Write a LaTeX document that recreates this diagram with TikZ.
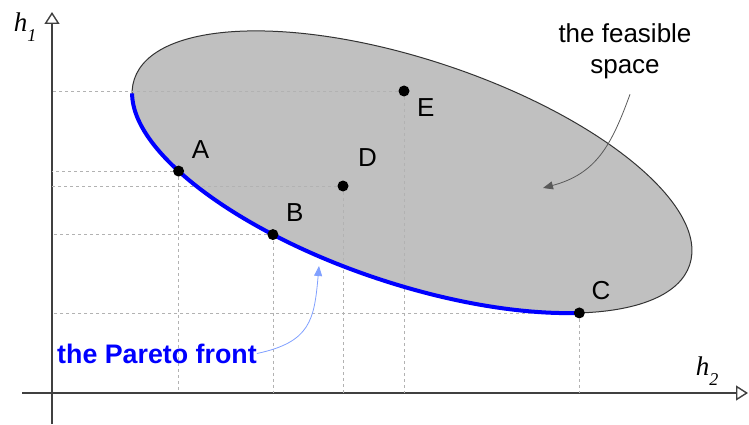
\documentclass[tikz,border=0pt]{standalone}
\usepackage{fontspec}
\setmainfont{Liberation Sans}
\newfontfamily\axisfont{Liberation Serif}
\usepackage{xcolor}
\usetikzlibrary{arrows.meta, positioning}
\definecolor{feasgray}{HTML}{C0C0C0}
\definecolor{frontblue}{HTML}{0000FF}
\definecolor{hintblue}{HTML}{80A0FF}
\tikzset{
    axisline/.style={draw=black!75, line width=1.4pt, -{Triangle[open, length=12pt, width=15pt]}},
    guide/.style={draw=black!30, line width=0.6pt, dash pattern=on 3pt off 3pt},
    feasible/.style={draw=black!80, line width=1pt, fill=feasgray},
    front/.style={draw=frontblue, line width=4pt},
    dot/.style={circle, fill=black, inner sep=0pt, minimum size=11pt},
    ptlabel/.style={font=\fontsize{26}{31}\selectfont, inner sep=0pt},
    note/.style={draw=black!65, line width=0.8pt, -{Triangle[length=10pt, width=8pt]}},
    hint/.style={draw=hintblue, line width=0.8pt, -{Triangle[length=10pt, width=8pt]}}
}
\newcommand{\axlabel}[2]{{\axisfont\fontsize{27}{30}\selectfont\itshape #1\raisebox{-10pt}{\fontsize{18}{18}\selectfont #2}}}

\begin{document}
\begin{tikzpicture}[x=1pt, y=1pt]
    \useasboundingbox (0,0) rectangle (749,424);
    \coordinate (O) at (52,31);
    \coordinate (ybot) at (52,0);
    \coordinate (ytop) at (52,412);
    \coordinate (xleft) at (22,31);
    \coordinate (xright) at (748,31);
    \draw [axisline] (ybot) -- (ytop);
    \draw [axisline] (xleft) -- (xright);
    \node (h1) [inner sep=0pt] at (25,396.5) {\axlabel{h}{1}};
    \node (h2) [inner sep=0pt] at (707,53) {\axlabel{h}{2}};

    \begin{scope}[shift={(412,252)}, rotate=-18.5]
        \draw [feasible] (0,0) ellipse [x radius=292.8pt, y radius=112pt];
        \coordinate (start) at (187.3:292.8pt and 112pt);
        \coordinate (pA) at (220.8:292.8pt and 112pt);
        \coordinate (pB) at (247.5:292.8pt and 112pt);
        \coordinate (pC) at (314:292.8pt and 112pt);
    \end{scope}
    \coordinate (pD) at (343,238);
    \coordinate (pE) at (404,333);

    \foreach \p in {pA, pB, pC, pD, pE} {
        \draw [guide] (\p) -- (\p -| O);
        \draw [guide] (\p) -- (\p |- O);
    }

    \begin{scope}[shift={(412,252)}, rotate=-18.5]
        \draw [front] (start) arc [start angle=187.3, end angle=314, x radius=292.8pt, y radius=112pt];
    \end{scope}

    \node (A) [dot] at (pA) {};
    \node (B) [dot] at (pB) {};
    \node (C) [dot] at (pC) {};
    \node (D) [dot] at (pD) {};
    \node (E) [dot] at (pE) {};
    \node (labA) [ptlabel, above right=8pt and 9pt of A] {A};
    \node (labB) [ptlabel, above right=9pt and 9pt of B] {B};
    \node (labC) [ptlabel, above right=9pt and 8pt of C] {C};
    \node (labD) [ptlabel, above right=15pt and 11pt of D] {D};
    \node (labE) [ptlabel, below right=3pt and 9pt of E] {E};

    \node (feas) [ptlabel, align=center] at (625,372.5) {the feasible\\space};
    \node (pareto) [ptlabel, anchor=west, text=frontblue, font=\fontsize{26.8}{31}\selectfont\bfseries] at (57,70.5) {the Pareto front};
    \coordinate (feastip) at (543,236);
    \coordinate (paretotip) at (319,158);
    \draw [note] ([xshift=5pt, yshift=-15pt]feas.south) to[out=-110, in=15, looseness=1.1] (feastip);
    \draw [hint] (pareto.east) to[out=12, in=-95, looseness=1.3] (paretotip);
\end{tikzpicture}
\end{document}
